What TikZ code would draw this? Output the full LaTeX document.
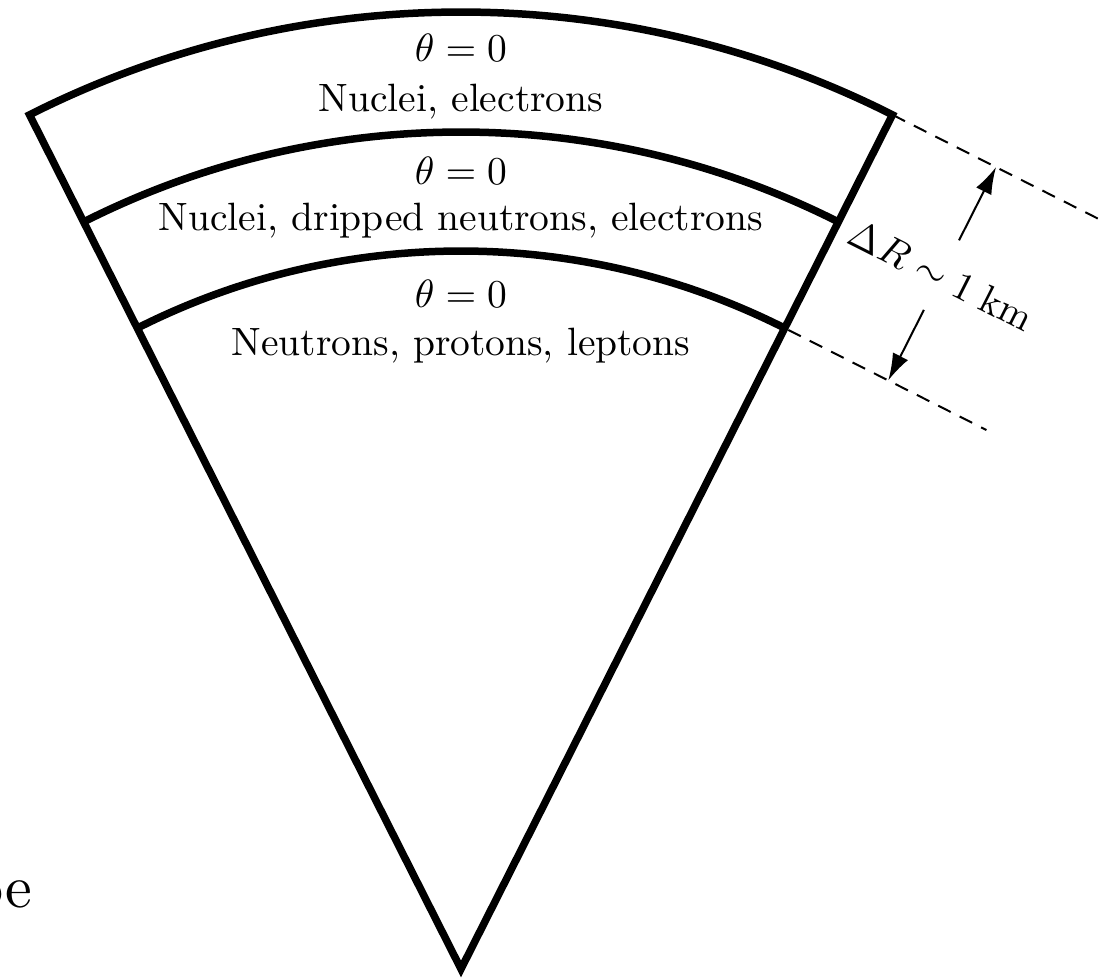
\documentclass[tikz,border=0pt]{standalone}
\usetikzlibrary{calc,arrows.meta}
\begin{document}
\begin{tikzpicture}[x=1pt,y=1pt,
  wall/.style={line width=7.5pt, line join=miter},
  lbl/.style={anchor=base, scale=3.95, inner sep=0pt},
  dimline/.style={line width=2pt, dash pattern=on 14pt off 10pt},
  dimarrow/.style={line width=2pt, -{Latex[length=27pt,width=17pt]}}]
\useasboundingbox (-461,-8) rectangle (649,969);
\fill[white] (-461,-8) rectangle (649,969);
\coordinate (A) at (0,0);
\coordinate (R1) at (63.2:957);
\coordinate (R2) at (63.2:837);
\coordinate (R3) at (63.2:718);
% sector outline and layer boundaries
\draw[wall] (A) -- (R1) arc[start angle=63.2, end angle=116.8, radius=957] -- cycle;
\draw[wall] (R2) arc[start angle=63.2, end angle=116.8, radius=837];
\draw[wall] (R3) arc[start angle=63.2, end angle=116.8, radius=718];
% dimension lines
\coordinate (D1) at ($(R1)+(-26.8:240)$);
\coordinate (D3a) at ($(R3)+(-26.8:4)$);
\coordinate (D3) at ($(R3)+(-26.8:226)$);
\draw[dimline] (R1) -- (D1);
\draw[dimline] (D3a) -- (D3);
\coordinate (UT) at ($(63.2:957)+(-26.8:116)$);
\coordinate (US) at ($(63.2:875)+(-26.8:116)$);
\coordinate (LT) at ($(63.2:718)+(-26.8:116)$);
\coordinate (LS) at ($(63.2:797)+(-26.8:116)$);
\draw[dimarrow] (US) -- (UT);
\draw[dimarrow] (LS) -- (LT);
\node[rotate=-26.8, scale=3.95, inner sep=0pt] (dr) at ($(63.2:836)+(-26.8:116)$) {$\Delta R\sim 1\;\mathrm{km}$};
% labels
\node[lbl] (t1) at (0,907) {$\theta = 0$};
\node[lbl] (n1) at (0,857) {Nuclei, electrons};
\node[lbl] (t2) at (0,784) {$\theta = 0$};
\node[lbl] (n2) at (0,738) {Nuclei, dripped neutrons, electrons};
\node[lbl] (t3) at (0,661) {$\theta = 0$};
\node[lbl] (n3) at (0,613) {Neutrons, protons, leptons};
\node[anchor=base east, scale=6, inner sep=0pt] (pe) at (-428,62) {pe};
\end{tikzpicture}
\end{document}
